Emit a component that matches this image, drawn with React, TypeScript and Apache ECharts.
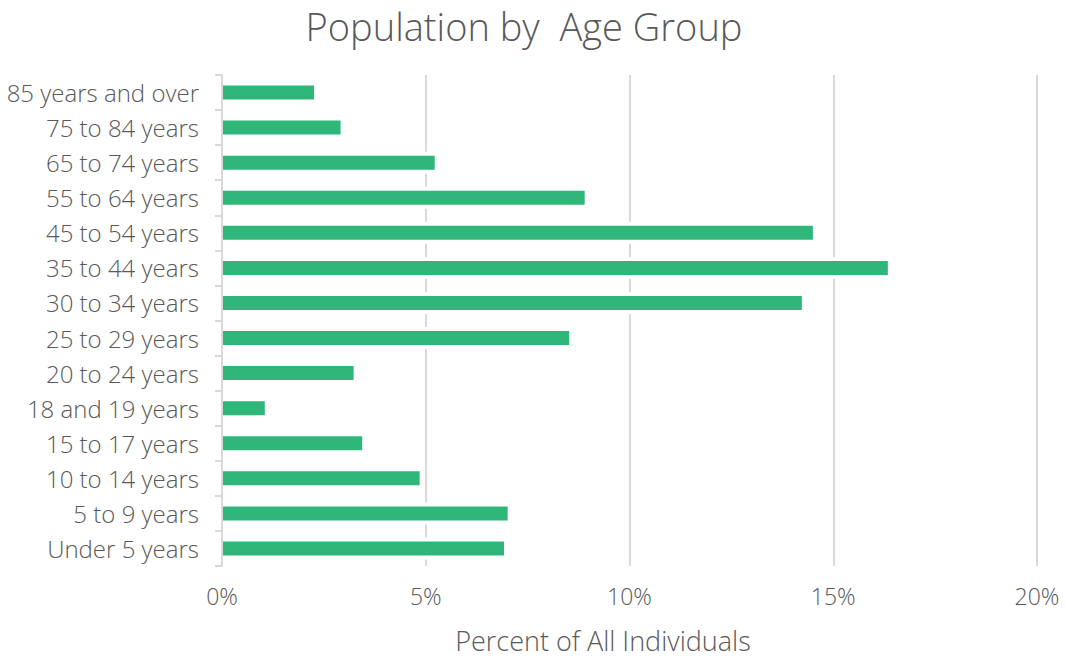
import React, { useEffect, useRef } from "react";
import * as echarts from "echarts";

const categories = [
  "Under 5 years",
  "5 to 9 years",
  "10 to 14 years",
  "15 to 17 years",
  "18 and 19 years",
  "20 to 24 years",
  "25 to 29 years",
  "30 to 34 years",
  "35 to 44 years",
  "45 to 54 years",
  "55 to 64 years",
  "65 to 74 years",
  "75 to 84 years",
  "85 years and over",
];

const percentValues = [6.92, 7.01, 4.85, 3.44, 1.05, 3.23, 8.52, 14.23, 16.34, 14.5, 8.9, 5.22, 2.91, 2.26];

const xTicks = [0, 5, 10, 15, 20];

const titleText = "Population by  Age Group";
const xAxisTitle = "Percent of All Individuals";

const FONT = "Open Sans";
const TEXT = "#595959";
const GRID = "#d9d9d9";
const GREEN = "#2fb77a";

export default function App() {
  const ref = useRef<HTMLDivElement>(null);
  useEffect(() => {
    document.body.style.margin = "0";
    const chart = echarts.init(ref.current!, undefined, { renderer: "svg" });
    chart.setOption({
      animation: false,
      backgroundColor: "#ffffff",
      textStyle: { fontFamily: FONT },
      graphic: [
        {
          type: "text",
          x: 524,
          y: 26,
          style: {
            text: titleText,
            fontFamily: FONT,
            fontWeight: 300,
            fontSize: 38,
            fill: TEXT,
            textAlign: "center",
            textVerticalAlign: "middle",
          },
        },
        {
          type: "text",
          x: 603,
          y: 640,
          style: {
            text: xAxisTitle,
            fontFamily: FONT,
            fontWeight: 300,
            fontSize: 27,
            fill: TEXT,
            textAlign: "center",
            textVerticalAlign: "middle",
          },
        },
      ],
      grid: { left: 222, right: 29, top: 75, bottom: 92, outerBoundsMode: "none", containLabel: false },
      xAxis: {
        type: "value",
        min: xTicks[0],
        max: xTicks[xTicks.length - 1],
        interval: 5,
        axisLine: { show: false },
        axisTick: { show: false },
        axisLabel: {
          color: TEXT,
          fontSize: 23,
          fontFamily: FONT,
          fontWeight: 300,
          margin: 18,
          formatter: (v: number) => `${v}%`,
        },
        splitLine: { show: true, lineStyle: { color: GRID, width: 2 } },
      },
      yAxis: [
        {
          type: "category",
          data: categories,
          z: 5,
          axisLine: { show: true, lineStyle: { color: GRID, width: 2 } },
          axisTick: { show: true, length: 7, lineStyle: { color: GRID, width: 2 } },
          axisLabel: {
            color: TEXT,
            fontSize: 24,
            fontFamily: FONT,
            fontWeight: 300,
            margin: 23,
            padding: [0, 0, 3, 0],
          },
          splitLine: { show: false },
        },
        {
          type: "category",
          data: categories,
          position: "left",
          show: false,
        },
      ],
      series: [
        {
          type: "bar",
          yAxisIndex: 1,
          data: percentValues,
          barWidth: 22,
          itemStyle: { color: "#ffffff" },
          silent: true,
          z: 1,
        },
        {
          type: "bar",
          yAxisIndex: 0,
          data: percentValues,
          barWidth: 14,
          itemStyle: { color: GREEN },
          z: 2,
        },
      ],
    });
    return () => chart.dispose();
  }, []);
  return <div ref={ref} style={{ width: 1066, height: 658 }} />;
}
